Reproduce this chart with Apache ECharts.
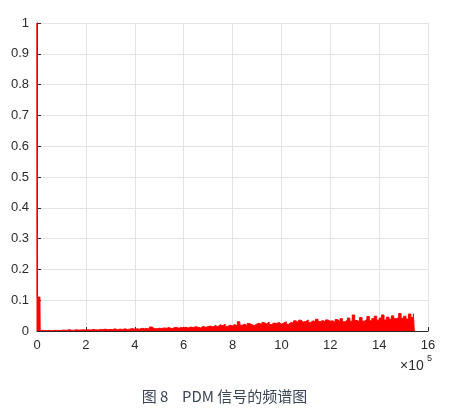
<!DOCTYPE html>
<html>
<head>
<meta charset="utf-8">
<script src="https://cdn.jsdelivr.net/npm/echarts@6/dist/echarts.min.js"></script>
<style>
html,body{margin:0;padding:0;background:#fff;}
#c{width:449px;height:412px;}
</style>
</head>
<body>
<div id="c"></div>
<script>
// Spectrum: leading spike and DC block, then regular bins
var headFreq = [0, 0, 1000, 12000, 13000];
var headAmp = [0, 1, 0.11, 0.11, 0.002];
var binStart = 20000;   // first regular bin (Hz)
var binWidth = 10000;   // bin spacing (Hz)
var binAmp = [
  0.002,0.001,0.002,0.001,0.002,0.002,0.001,0.002,
  0.003,0.002,0.004,0.003,0.002,0.004,0.003,0.003,0.004,0.003,
  0.004,0.003,0.005,0.004,0.003,0.005,0.004,0.006,0.004,0.005,
  0.005,0.007,0.004,0.006,0.005,0.007,0.005,0.006,0.008,0.006,
  0.007,0.006,0.009,0.007,0.008,0.006,0.013,0.008,0.007,0.009,
  0.008,0.010,0.009,0.011,0.008,0.010,0.012,0.009,0.011,0.010,
  0.012,0.010,0.013,0.011,0.014,0.012,0.010,0.015,0.012,0.014,
  0.016,0.013,0.018,0.014,0.020,0.017,0.022,0.015,0.019,0.017,
  0.021,0.016,0.030,0.019,0.022,0.017,0.024,0.020,0.018,0.023,
  0.025,0.020,0.027,0.023,0.029,0.021,0.026,0.024,0.028,0.022,
  0.026,0.030,0.022,0.028,0.025,0.033,0.027,0.035,0.029,0.031,
  0.036,0.028,0.033,0.030,0.038,0.031,0.034,0.029,0.036,0.032,
  0.033,0.028,0.037,0.031,0.040,0.030,0.035,0.042,0.032,0.052,
  0.034,0.030,0.044,0.032,0.038,0.047,0.033,0.040,0.048,0.035,
  0.042,0.052,0.036,0.045,0.038,0.049,0.040,0.044,0.057,0.041,
  0.048,0.039,0.055,0.044,0.056
];
var tailAmp = [0];
var xTicks = [0,2,4,6,8,10,12,14,16];
var yTicks = [0,0.1,0.2,0.3,0.4,0.5,0.6,0.7,0.8,0.9,1];
var caption = '图 8    PDM 信号的频谱图';

var data = [];
for (var i = 0; i < headFreq.length; i++) data.push([headFreq[i], headAmp[i]]);
for (var j = 0; j < binAmp.length; j++) data.push([binStart + j * binWidth, binAmp[j]]);
data.push([binStart + binAmp.length * binWidth - 6000, binAmp[binAmp.length-1]]);
data.push([binStart + binAmp.length * binWidth - 6000, tailAmp[0]]);

var chart = echarts.init(document.getElementById('c'), null, {renderer:'canvas'});
var labelFont = {fontFamily:'Liberation Sans, Arial, sans-serif', fontSize:13, color:'#2b2b2b'};
chart.setOption({
  animation:false,
  backgroundColor:'#fff',
  grid:{left:37, right:21, top:23, bottom:81, containLabel:false},
  xAxis:{
    type:'value', min:0, max:1600000, interval:200000,
    axisLine:{show:true, onZero:false, lineStyle:{color:'#262626', width:1}},
    axisTick:{show:true, inside:true, length:4, lineStyle:{color:'#262626'}},
    axisLabel:Object.assign({margin:8, formatter:function(v){return String(Math.round(v/100000));}}, labelFont),
    splitLine:{show:true, lineStyle:{color:'#e3e3e3', width:1}}
  },
  yAxis:{
    type:'value', min:0, max:1, interval:0.1,
    axisLine:{show:true, lineStyle:{color:'#262626', width:1}},
    axisTick:{show:true, inside:true, length:4, lineStyle:{color:'#262626'}},
    axisLabel:Object.assign({margin:8, formatter:function(v){return String(Math.round(v*10)/10);}}, labelFont),
    splitLine:{show:true, lineStyle:{color:'#e3e3e3', width:1}}
  },
  series:[{
    type:'line', data:data, showSymbol:false, symbol:'none', step:'end',
    lineStyle:{color:'#ff0000', width:1},
    areaStyle:{color:'#ff0000', opacity:1},
    z:5
  }],
  graphic:[
    {type:'text', left:400, top:359, style:{text:'×10', fontFamily:'Liberation Sans, Arial, sans-serif', fontSize:14, fill:'#2b2b2b'}},
    {type:'text', left:427, top:354, style:{text:'5', fontFamily:'Liberation Sans, Arial, sans-serif', fontSize:9, fill:'#2b2b2b'}},
    {type:'text', left:'center', top:389, style:{text:caption, fontFamily:'Noto Sans CJK SC, sans-serif', fontSize:15, fill:'#3b4556'}}
  ]
});
</script>
</body>
</html>
